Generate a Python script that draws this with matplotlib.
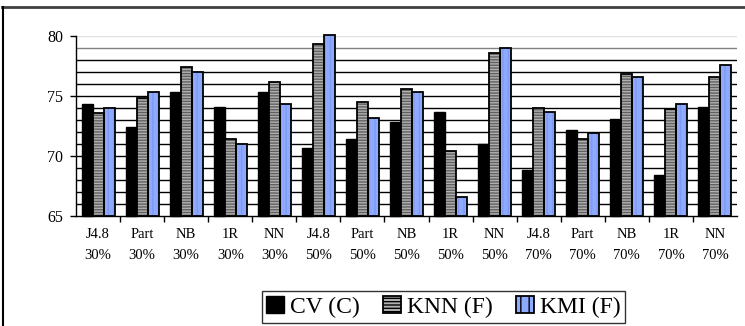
import matplotlib
matplotlib.use("Agg")
import matplotlib.pyplot as plt
import numpy as np
from matplotlib.patches import Patch
from matplotlib.lines import Line2D

categories = ["J4.8\n30%", "Part\n30%", "NB\n30%", "1R\n30%", "NN\n30%",
              "J4.8\n50%", "Part\n50%", "NB\n50%", "1R\n50%", "NN\n50%",
              "J4.8\n70%", "Part\n70%", "NB\n70%", "1R\n70%", "NN\n70%"]
cv_c = [74.3, 72.4, 75.3, 74.1, 75.3, 70.7, 71.4, 72.8, 73.7, 71.0, 68.8, 72.2, 73.1, 68.4, 74.1]
knn_f = [73.6, 74.8, 77.4, 71.4, 76.2, 79.3, 74.5, 75.6, 70.4, 78.6, 74.0, 71.4, 76.8, 73.9, 76.6]
kmi_f = [74.0, 75.3, 77.0, 71.0, 74.3, 80.1, 73.2, 75.3, 66.6, 79.0, 73.7, 71.9, 76.6, 74.3, 77.6]
series_names = ["CV (C)", "KNN (F)", "KMI (F)"]
y_ticks = [65, 70, 75, 80]

plt.rcParams['font.family'] = ['Liberation Serif', 'DejaVu Serif']
plt.rcParams['hatch.linewidth'] = 1.0

fig = plt.figure(figsize=(7.45, 3.26), dpi=100)
ax = fig.add_axes([76/745, 1-216/326, (737-76)/745, 180/326])

x = np.arange(len(categories))
w = 0.25
base = 65
# gridlines
for yv in np.arange(66, 81):
    col = 'black'
    if yv == 80:
        col = '#e0e0e0'
    elif yv == 79:
        col = '#808080'
    ax.axhline(yv, color=col, lw=1.0, zorder=0)

# CV bars
ax.bar(x - w, np.array(cv_c) - base, w, bottom=base, color='black', edgecolor='black', lw=1.0, zorder=2, clip_on=False)
# KNN bars
ax.bar(x, np.array(knn_f) - base, w, bottom=base, color='#b0b0b0', edgecolor='#606060', hatch='------', lw=0, zorder=2, clip_on=False)
ax.bar(x, np.array(knn_f) - base, w, bottom=base, fill=False, edgecolor='black', lw=1.3, zorder=3, clip_on=False)
# KMI bars
ax.bar(x + w, np.array(kmi_f) - base, w, bottom=base, color='#8eaaff', edgecolor='#7f9af2', hatch='|||', lw=0, zorder=2, clip_on=False)
ax.bar(x + w, np.array(kmi_f) - base, w, bottom=base, fill=False, edgecolor='black', lw=1.3, zorder=3, clip_on=False)

ax.set_xlim(-0.5, len(categories) - 0.5)
ax.set_ylim(65, 80)
ax.set_yticks(y_ticks)
ax.set_yticklabels([str(v) for v in y_ticks], fontsize=11.5)
ax.set_xticks(x)
ax.set_xticklabels(categories, fontsize=10.5, linespacing=1.75)
ax.set_xticks(np.arange(0.5, len(categories) - 0.5, 1), minor=True)
ax.tick_params(axis='x', which='major', length=0, pad=9)
ax.tick_params(axis='x', which='minor', length=4, width=1, direction='out')
ax.tick_params(axis='y', which='major', length=4, width=1, direction='out', pad=5)
for s in ['top', 'right']:
    ax.spines[s].set_visible(False)
ax.spines['left'].set_linewidth(1.0)
ax.spines['bottom'].set_linewidth(1.0)
ax.set_facecolor('white')

handles = [
    Patch(facecolor='black', edgecolor='black', lw=1.0),
    Patch(facecolor='#b0b0b0', edgecolor='black', hatch='-----', lw=1.3),
    Patch(facecolor='#8eaaff', edgecolor='black', hatch='||', lw=1.3),
]
leg = fig.legend(handles, series_names, loc='center', bbox_to_anchor=(443.5/745, 1-307/326),
                 ncol=3, fontsize=17, frameon=True, fancybox=False, shadow=False,
                 handlelength=0.75, handleheight=0.75, handletextpad=0.25, columnspacing=1.0,
                 borderpad=0.2, borderaxespad=0)
leg.get_frame().set_edgecolor('black')
leg.get_frame().set_linewidth(1.0)

# outer frame (partially visible)
fig.add_artist(Line2D([2/745, 1], [1-6.5/326, 1-6.5/326], color='#404040', lw=2, transform=fig.transFigure))
fig.add_artist(Line2D([2.5/745, 2.5/745], [0, 1-6.5/326], color='black', lw=1.5, transform=fig.transFigure))

fig.savefig("out.png", dpi=100, facecolor='white')
